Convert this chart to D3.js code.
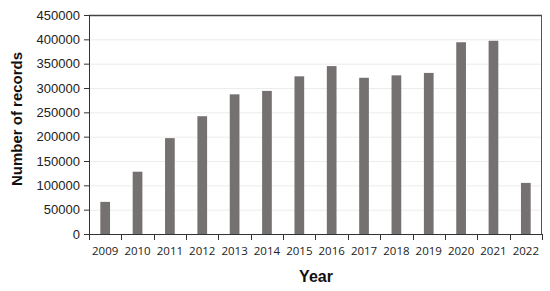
<!DOCTYPE html>
<html>
<head>
<meta charset="utf-8">
<script src="https://cdn.jsdelivr.net/npm/d3@7"></script>
<style>
  body { margin: 0; background: #fff; }
  svg { display: block; }
</style>
</head>
<body>
<svg id="chart" width="550" height="291"></svg>
<script>
const years = ['2009', '2010', '2011', '2012', '2013', '2014', '2015', '2016', '2017', '2018', '2019', '2020', '2021', '2022'];
const records = [66000, 128000, 197000, 242000, 287000, 294000, 324000, 345000, 321000, 326000, 331000, 394000, 397000, 105000];
const yTicks = [0, 50000, 100000, 150000, 200000, 250000, 300000, 350000, 400000, 450000];

const margin = { top: 15, right: 8, bottom: 57, left: 89 };
const width = 550 - margin.left - margin.right;
const height = 291 - margin.top - margin.bottom;

const svg = d3.select('#chart');
const g = svg.append('g').attr('transform', `translate(${margin.left},${margin.top})`);

const x = d3.scaleBand().domain(years).range([0, width]).paddingInner(0.7).paddingOuter(0.35);
const y = d3.scaleLinear().domain([0, 450000]).range([height, 0]);

// gridlines
g.append('g')
    .selectAll('line')
    .data(yTicks.slice(1))
    .enter()
    .append('line')
    .attr('x1', 0)
    .attr('x2', width)
    .attr('y1', (d) => y(d) + 0.5)
    .attr('y2', (d) => y(d) + 0.5)
    .attr('stroke', '#ececec')
    .attr('stroke-width', 1);

// bars
g.append('g')
    .selectAll('rect')
    .data(records)
    .enter()
    .append('rect')
    .attr('x', (d, i) => x(years[i]))
    .attr('width', x.bandwidth())
    .attr('y', (d) => y(d))
    .attr('height', (d) => height - y(d))
    .attr('fill', '#767171');

// frame
g.append('line').attr('x1', 0).attr('x2', width).attr('y1', 0.5).attr('y2', 0.5)
    .attr('stroke', '#444').attr('stroke-width', 1.5);
g.append('line').attr('x1', width - 0.5).attr('x2', width - 0.5).attr('y1', 0).attr('y2', height)
    .attr('stroke', '#555').attr('stroke-width', 1);

// y axis
const yAxis = g.append('g')
    .call(d3.axisLeft(y).tickValues(yTicks).tickSize(5).tickPadding(4).tickFormat(d3.format('d')));
yAxis.select('.domain').attr('stroke', '#333');
yAxis.selectAll('.tick line').attr('stroke', '#333');
yAxis.selectAll('text')
    .attr('font-family', '"Liberation Sans", Arial, sans-serif')
    .attr('font-size', 13)
    .attr('fill', '#222');

// x axis: ticks sit between categories
const xAxis = g.append('g').attr('transform', `translate(0,${height})`);
xAxis.append('line').attr('x1', 0).attr('x2', width).attr('y1', 0.5).attr('y2', 0.5)
    .attr('stroke', '#333');
const step = x.step();
const bounds = d3.range(years.length + 1).map((i) => i * step);
xAxis.selectAll('line.tk')
    .data(bounds)
    .enter()
    .append('line')
    .attr('class', 'tk')
    .attr('x1', (d) => Math.round(d) + 0.5)
    .attr('x2', (d) => Math.round(d) + 0.5)
    .attr('y1', 0)
    .attr('y2', 6)
    .attr('stroke', '#333');
xAxis.selectAll('text')
    .data(years)
    .enter()
    .append('text')
    .attr('x', (d) => x(d) + x.bandwidth() / 2)
    .attr('y', 21)
    .attr('text-anchor', 'middle')
    .attr('font-family', '"Open Sans", "Liberation Sans", sans-serif')
    .attr('font-size', 11.5)
    .attr('fill', '#222')
    .text((d) => d);

// axis titles
svg.append('text')
    .attr('x', 316)
    .attr('y', 282)
    .attr('text-anchor', 'middle')
    .attr('font-family', '"Liberation Sans", Arial, sans-serif')
    .attr('font-weight', 'bold')
    .attr('font-size', 16)
    .attr('fill', '#111')
    .text('Year');

svg.append('text')
    .attr('transform', 'translate(22,119) rotate(-90)')
    .attr('text-anchor', 'middle')
    .attr('font-family', '"Liberation Sans", Arial, sans-serif')
    .attr('font-weight', 'bold')
    .attr('font-size', 15)
    .attr('fill', '#111')
    .text('Number of records');
</script>
</body>
</html>
